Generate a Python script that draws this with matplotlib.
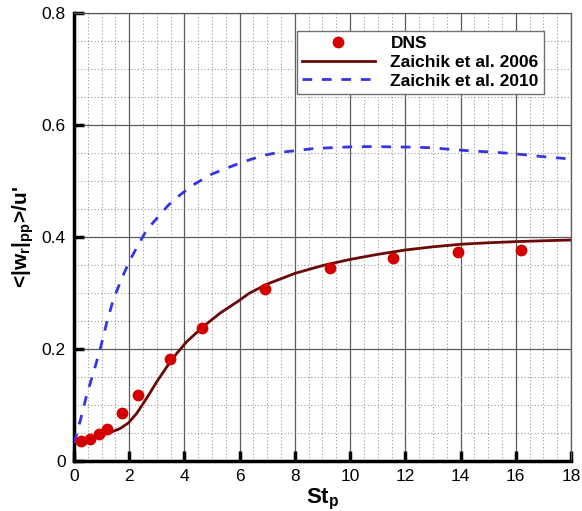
import numpy as np
import matplotlib
matplotlib.use('Agg')
import matplotlib.pyplot as plt
from matplotlib.ticker import MultipleLocator

plt.rcParams['font.family'] = ['Liberation Sans', 'DejaVu Sans']
plt.rcParams['mathtext.fontset'] = 'custom'
plt.rcParams['mathtext.bf'] = 'Liberation Sans:bold'
plt.rcParams['mathtext.rm'] = 'Liberation Sans'

# DNS points
st_dns = [0.24, 0.58, 0.92, 1.18, 1.73, 2.31, 3.48, 4.65, 6.93, 9.26, 11.56, 13.9, 16.18]
w_dns = [0.035, 0.039, 0.049, 0.058, 0.086, 0.118, 0.183, 0.237, 0.308, 0.345, 0.3625, 0.3726, 0.3775]

# Zaichik et al. 2006
st_z06 = [0.0, 0.3, 0.7, 1.0, 1.3, 1.67, 1.97, 2.27, 2.63, 3.0, 3.36, 3.72, 4.08, 4.68,
          5.29, 6.01, 6.34, 7.0, 8.0, 9.0, 10.0, 11.0, 12.0, 13.0, 14.0, 15.0, 16.0, 17.0, 18.0]
w_z06 = [0.035, 0.038, 0.042, 0.046, 0.0506, 0.058, 0.068, 0.085, 0.112, 0.1417, 0.168, 0.192,
         0.213, 0.240, 0.264, 0.2875, 0.2994, 0.316, 0.335, 0.349, 0.360, 0.369, 0.3768, 0.3825,
         0.387, 0.3897, 0.3917, 0.3933, 0.3946]

# Zaichik et al. 2010
st_z10 = [0.0, 0.07, 0.28, 0.46, 0.7, 0.94, 1.18, 1.42, 1.73, 2.03, 2.33, 2.63, 3.05, 3.42,
          3.84, 4.32, 4.93, 5.53, 6.13, 6.8, 7.34, 8.0, 8.69, 9.35, 10.07, 10.8, 11.5, 12.2,
          12.9, 13.6, 14.3, 15.0, 15.6, 16.3, 17.0, 17.7, 18.0]
w_z10 = [0.032, 0.043, 0.082, 0.118, 0.157, 0.198, 0.246, 0.2875, 0.326, 0.359, 0.386, 0.4125,
         0.436, 0.457, 0.475, 0.493, 0.511, 0.523, 0.534, 0.545, 0.5505, 0.554, 0.558, 0.5595,
         0.561, 0.5615, 0.561, 0.5605, 0.5595, 0.5566, 0.554, 0.552, 0.55, 0.547, 0.5434,
         0.5405, 0.539]

x_ticks = [0, 2, 4, 6, 8, 10, 12, 14, 16, 18]
y_ticks = [0, 0.2, 0.4, 0.6, 0.8]
y_tick_labels = ['0', '0.2', '0.4', '0.6', '0.8']

fig = plt.figure(figsize=(5.82, 5.11), dpi=100)
ax = fig.add_axes([0.1271, 0.0978, 0.8540, 0.8768])

ax.plot(st_z06, w_z06, color='#6B0808', lw=2.0, label='Zaichik et al. 2006', zorder=3)
ax.plot(st_z10, w_z10, color='#3535E8', lw=2.0, dashes=(3.5, 3.5),
        label='Zaichik et al. 2010', zorder=3)
ax.plot(st_dns, w_dns, 'o', color='#D40000', ms=8.5, mec='none', label='DNS', zorder=4)

ax.set_xlim(0, 18)
ax.set_ylim(0, 0.8)
ax.set_xticks(x_ticks)
ax.set_xticklabels([str(v) for v in x_ticks])
ax.set_yticks(y_ticks)
ax.set_yticklabels(y_tick_labels)
ax.xaxis.set_minor_locator(MultipleLocator(0.5))
ax.yaxis.set_minor_locator(MultipleLocator(0.05))

ax.grid(which='major', color='#5a5a5a', lw=0.9, ls='-')
ax.grid(which='minor', color='#9a9a9a', lw=0.8, ls=(0, (1, 2)))
ax.set_axisbelow(True)

ax.tick_params(which='major', direction='in', length=7, width=2.5, labelsize=12.5,
               top=False, right=False, pad=6)
ax.tick_params(which='minor', length=0)
for s in ['left', 'bottom']:
    ax.spines[s].set_linewidth(2.5)
    ax.spines[s].set_color('black')
for s in ['top', 'right']:
    ax.spines[s].set_linewidth(0.9)
    ax.spines[s].set_color('#5a5a5a')

ax.set_xlabel('St$_\\mathbf{p}$', fontsize=16, fontweight='bold', labelpad=2)
ax.set_ylabel("<|w$_\\mathbf{r}$|$_\\mathbf{pp}$>/u'", fontsize=15, fontweight='bold', labelpad=4)

handles, labels = ax.get_legend_handles_labels()
order = [2, 0, 1]
leg = ax.legend([handles[i] for i in order], [labels[i] for i in order],
                loc='upper left', bbox_to_anchor=(0.448, 0.96), fancybox=False,
                framealpha=1, edgecolor='#707070', handlelength=4.2, handletextpad=0.9,
                borderpad=0.3, labelspacing=0.2, borderaxespad=0,
                prop={'weight': 'bold', 'size': 12.5})
leg.get_frame().set_linewidth(1.0)

plt.savefig('out.png', dpi=100)
